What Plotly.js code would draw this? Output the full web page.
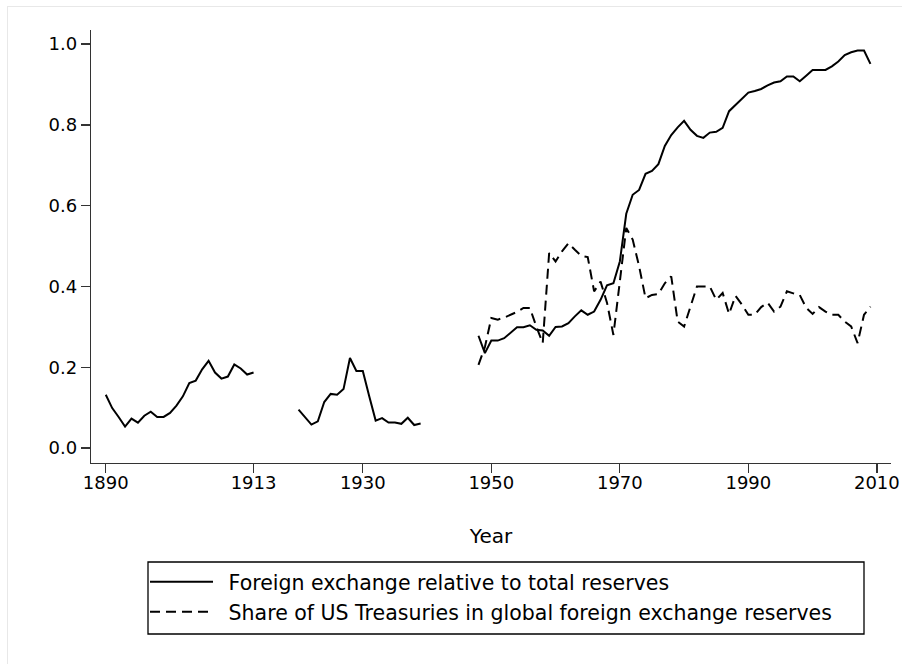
<!DOCTYPE html>
<html>
<head>
<meta charset="utf-8">
<script src="https://cdn.plot.ly/plotly-3.0.1.min.js"></script>
<style>
html,body{margin:0;padding:0;background:#fff;}
#chart{width:902px;height:664px;}
</style>
</head>
<body>
<div id="chart"></div>
<script>
// Foreign exchange relative to total reserves (null = gap)
var fxYears = [1890,1891,1892,1893,1894,1895,1896,1897,1898,1899,1900,1901,1902,1903,1904,1905,1906,1907,1908,1909,1910,1911,1912,1913,
  1914,
  1920,1921,1922,1923,1924,1925,1926,1927,1928,1929,1930,1931,1932,1933,1934,1935,1936,1937,1938,1939,
  1940,
  1948,1949,1950,1951,1952,1953,1954,1955,1956,1957,1958,1959,1960,1961,1962,1963,1964,1965,1966,1967,1968,1969,1970,
  1971,1972,1973,1974,1975,1976,1977,1978,1979,1980,1981,1982,1983,1984,1985,1986,1987,1988,1989,1990,
  1991,1992,1993,1994,1995,1996,1997,1998,1999,2000,2001,2002,2003,2004,2005,2006,2007,2008,2009];
var fxShare = [0.132,0.099,0.077,0.053,0.073,0.063,0.080,0.090,0.077,0.077,0.087,0.105,0.128,0.161,0.167,0.195,0.216,0.187,0.172,0.177,0.207,0.197,0.182,0.187,
  null,
  0.095,0.077,0.058,0.066,0.114,0.134,0.132,0.146,0.223,0.191,0.191,0.128,0.068,0.074,0.063,0.063,0.060,0.075,0.057,0.061,
  null,
  0.278,0.235,0.266,0.266,0.272,0.286,0.299,0.299,0.304,0.293,0.291,0.278,0.300,0.301,0.309,0.326,0.341,0.330,0.338,0.367,0.403,0.408,0.462,
  0.580,0.627,0.639,0.679,0.686,0.703,0.748,0.775,0.794,0.810,0.788,0.773,0.768,0.781,0.783,0.793,0.834,0.849,0.865,0.880,
  0.884,0.889,0.898,0.905,0.908,0.920,0.920,0.908,0.922,0.936,0.936,0.936,0.945,0.957,0.973,0.980,0.984,0.984,0.951];

// Share of US Treasuries in global foreign exchange reserves
var ustYears = [1948,1949,1950,1951,1952,1953,1954,1955,1956,1957,1958,1959,1960,1961,1962,1963,1964,1965,1966,1967,1968,1969,1970,
  1971,1972,1973,1974,1975,1976,1977,1978,1979,1980,1981,1982,1983,1984,1985,1986,1987,1988,1989,1990,
  1991,1992,1993,1994,1995,1996,1997,1998,1999,2000,2001,2002,2003,2004,2005,2006,2007,2008,2009];
var ustShare = [0.206,0.250,0.322,0.318,0.323,0.330,0.337,0.347,0.347,0.301,0.260,0.483,0.462,0.487,0.507,0.491,0.476,0.473,0.388,0.412,0.360,0.280,0.412,
  0.545,0.516,0.450,0.371,0.379,0.381,0.408,0.425,0.313,0.301,0.350,0.400,0.400,0.400,0.367,0.384,0.332,0.377,0.355,0.330,
  0.330,0.349,0.360,0.338,0.350,0.388,0.383,0.379,0.347,0.332,0.349,0.338,0.330,0.330,0.313,0.301,0.260,0.330,0.350];

var xTicks = [1890,1913,1930,1950,1970,1990,2010];
var yTicks = [0,0.2,0.4,0.6,0.8,1.0];
var name1 = 'Foreign exchange relative to total reserves';
var name2 = 'Share of US Treasuries in global foreign exchange reserves';

var FONT = 'DejaVu Sans, Liberation Sans, Arial, sans-serif';
var FS_TICK = 18;
var FS_TITLE = 20;
var FS_LEG = 20.5;
var AX = '#333333';

var traces = [
  {x: fxYears, y: fxShare, type: 'scatter', mode: 'lines', name: '\u00a0\u2009' + name1, connectgaps: false,
   line: {color: '#000000', width: 2}, legend: 'legend'},
  {x: ustYears, y: ustShare, type: 'scatter', mode: 'lines', name: '\u00a0\u2009' + name2,
   line: {color: '#000000', width: 2, dash: '10px,6px'}, legend: 'legend2'}
];

function px2x(p){ return (p-91)/800; }
function px2y(p){ return (463-p)/433; }

var layout = {
  width: 902, height: 664,
  margin: {l: 91, r: 11, t: 30, b: 201},
  paper_bgcolor: '#ffffff', plot_bgcolor: '#ffffff',
  font: {family: FONT, size: FS_TICK, color: '#000000'},
  showlegend: true,
  xaxis: {
    range: [1887.7, 2012.2], tickvals: xTicks, ticktext: xTicks.map(String),
    showgrid: false, zeroline: false, showline: true, linecolor: AX, linewidth: 1.3,
    ticks: 'outside', ticklen: 9, tickwidth: 1.3, tickcolor: AX,
    ticklabelstandoff: -6, ticklabeloverflow: 'allow',
    tickfont: {family: FONT, size: FS_TICK, color: '#000'},
    title: {text: 'Year', font: {family: FONT, size: FS_TITLE, color: '#000'}, standoff: 37},
    automargin: false
  },
  yaxis: {
    range: [-0.037, 1.035], tickvals: yTicks, tickformat: '.1f',
    showgrid: false, zeroline: false, showline: true, linecolor: AX, linewidth: 1.3,
    ticks: 'outside', ticklen: 9, tickwidth: 1.3, tickcolor: AX,
    tickfont: {family: FONT, size: FS_TICK, color: '#000'},
    automargin: false
  },
  legend: {x: px2x(145), xanchor: 'left', y: px2y(582), yanchor: 'middle',
    bgcolor: 'rgba(0,0,0,0)', borderwidth: 0, itemwidth: 63,
    font: {family: FONT, size: FS_LEG, color: '#000'}},
  legend2: {x: px2x(145), xanchor: 'left', y: px2y(612), yanchor: 'middle',
    bgcolor: 'rgba(0,0,0,0)', borderwidth: 0, itemwidth: 63,
    font: {family: FONT, size: FS_LEG, color: '#000'}},
  shapes: [
    {type: 'rect', xref: 'paper', yref: 'paper', x0: px2x(148), x1: px2x(864), y0: px2y(562), y1: px2y(634),
     line: {color: '#000000', width: 1.3}, fillcolor: 'rgba(0,0,0,0)'},
    {type: 'line', xref: 'paper', yref: 'paper', x0: px2x(7), x1: px2x(902), y0: px2y(6.5), y1: px2y(6.5),
     line: {color: '#e8e8e8', width: 1}},
    {type: 'line', xref: 'paper', yref: 'paper', x0: px2x(7.5), x1: px2x(7.5), y0: px2y(6), y1: px2y(664),
     line: {color: '#e8e8e8', width: 1}}
  ]
};

Plotly.newPlot('chart', traces, layout, {displayModeBar: false, staticPlot: true});
</script>
</body>
</html>
